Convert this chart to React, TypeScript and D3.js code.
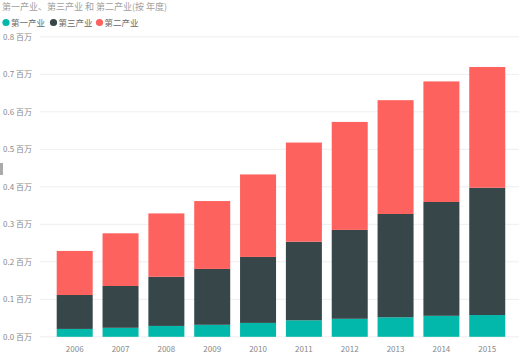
import React from "react";
import * as d3 from "d3";

const years = ["2006","2007","2008","2009","2010","2011","2012","2013","2014","2015"];
const primary = [0.021,0.024,0.029,0.032,0.037,0.044,0.048,0.052,0.056,0.058];
const tertiary = [0.0905,0.1115,0.131,0.149,0.176,0.2096,0.237,0.2755,0.3035,0.3396];
const secondary = [0.1175,0.1405,0.169,0.181,0.22,0.2644,0.288,0.3035,0.3215,0.3219];
const yTicks = [0,0.1,0.2,0.3,0.4,0.5,0.6,0.7,0.8];
const seriesNames = ["第一产业","第三产业","第二产业"];
const colors = ["#01B8AA","#374649","#FD625E"];
const title = "第一产业、第三产业 和 第二产业(按 年度)";

export default function App() {
  const W = 519, H = 356;
  const x = d3.scaleBand<string>().domain(years).range([45.24, 516.7]).paddingInner(0.2147).paddingOuter(0.25);
  const y = d3.scaleLinear().domain([0, 0.8]).range([336.8, 36.8]);
  const rows = years.map((yr, i) => ({ year: yr, a: primary[i], b: tertiary[i], c: secondary[i] }));
  const stack = d3.stack<any>().keys(["a","b","c"])(rows);
  const font = "'Segoe UI', 'Noto Sans CJK SC', 'DejaVu Sans', sans-serif";
  return (
    <svg width={W} height={H} style={{ position: "absolute", left: 0, top: 0, background: "#fff" }} fontFamily={font}>
      <text x={2} y={10} fontSize={9} fill="#a0a0a0">{title}</text>
      {seriesNames.map((n, i) => {
        const lx = [2, 49.5, 95.5][i];
        return (
          <g key={n}>
            <circle cx={lx + 4} cy={22.5} r={3.6} fill={colors[i]} />
            <text x={lx + 9} y={26} fontSize={8.5} fill="#666">{n}</text>
          </g>
        );
      })}
      {yTicks.map(t => (
        <g key={t}>
          <line x1={40} x2={519} y1={y(t)} y2={y(t)} stroke="#eeeeee" strokeWidth={1} />
          <text x={3} y={y(t) + 3} fontSize={8} fill="#888">{d3.format(".1f")(t)} 百万</text>
        </g>
      ))}
      <rect x={0} y={163} width={3} height={12} fill="#aaaaaa" />
      {stack.map((s, si) => (
        <g key={si} fill={colors[si]}>
          {s.map((d, i) => (
            <rect key={i} x={x(years[i])} width={x.bandwidth()} y={y(d[1])} height={y(d[0]) - y(d[1])} />
          ))}
        </g>
      ))}
      {years.map(yr => (
        <text key={yr} x={(x(yr) as number) + x.bandwidth() / 2} y={352} fontSize={8} fill="#888" textAnchor="middle">{yr}</text>
      ))}
    </svg>
  );
}
